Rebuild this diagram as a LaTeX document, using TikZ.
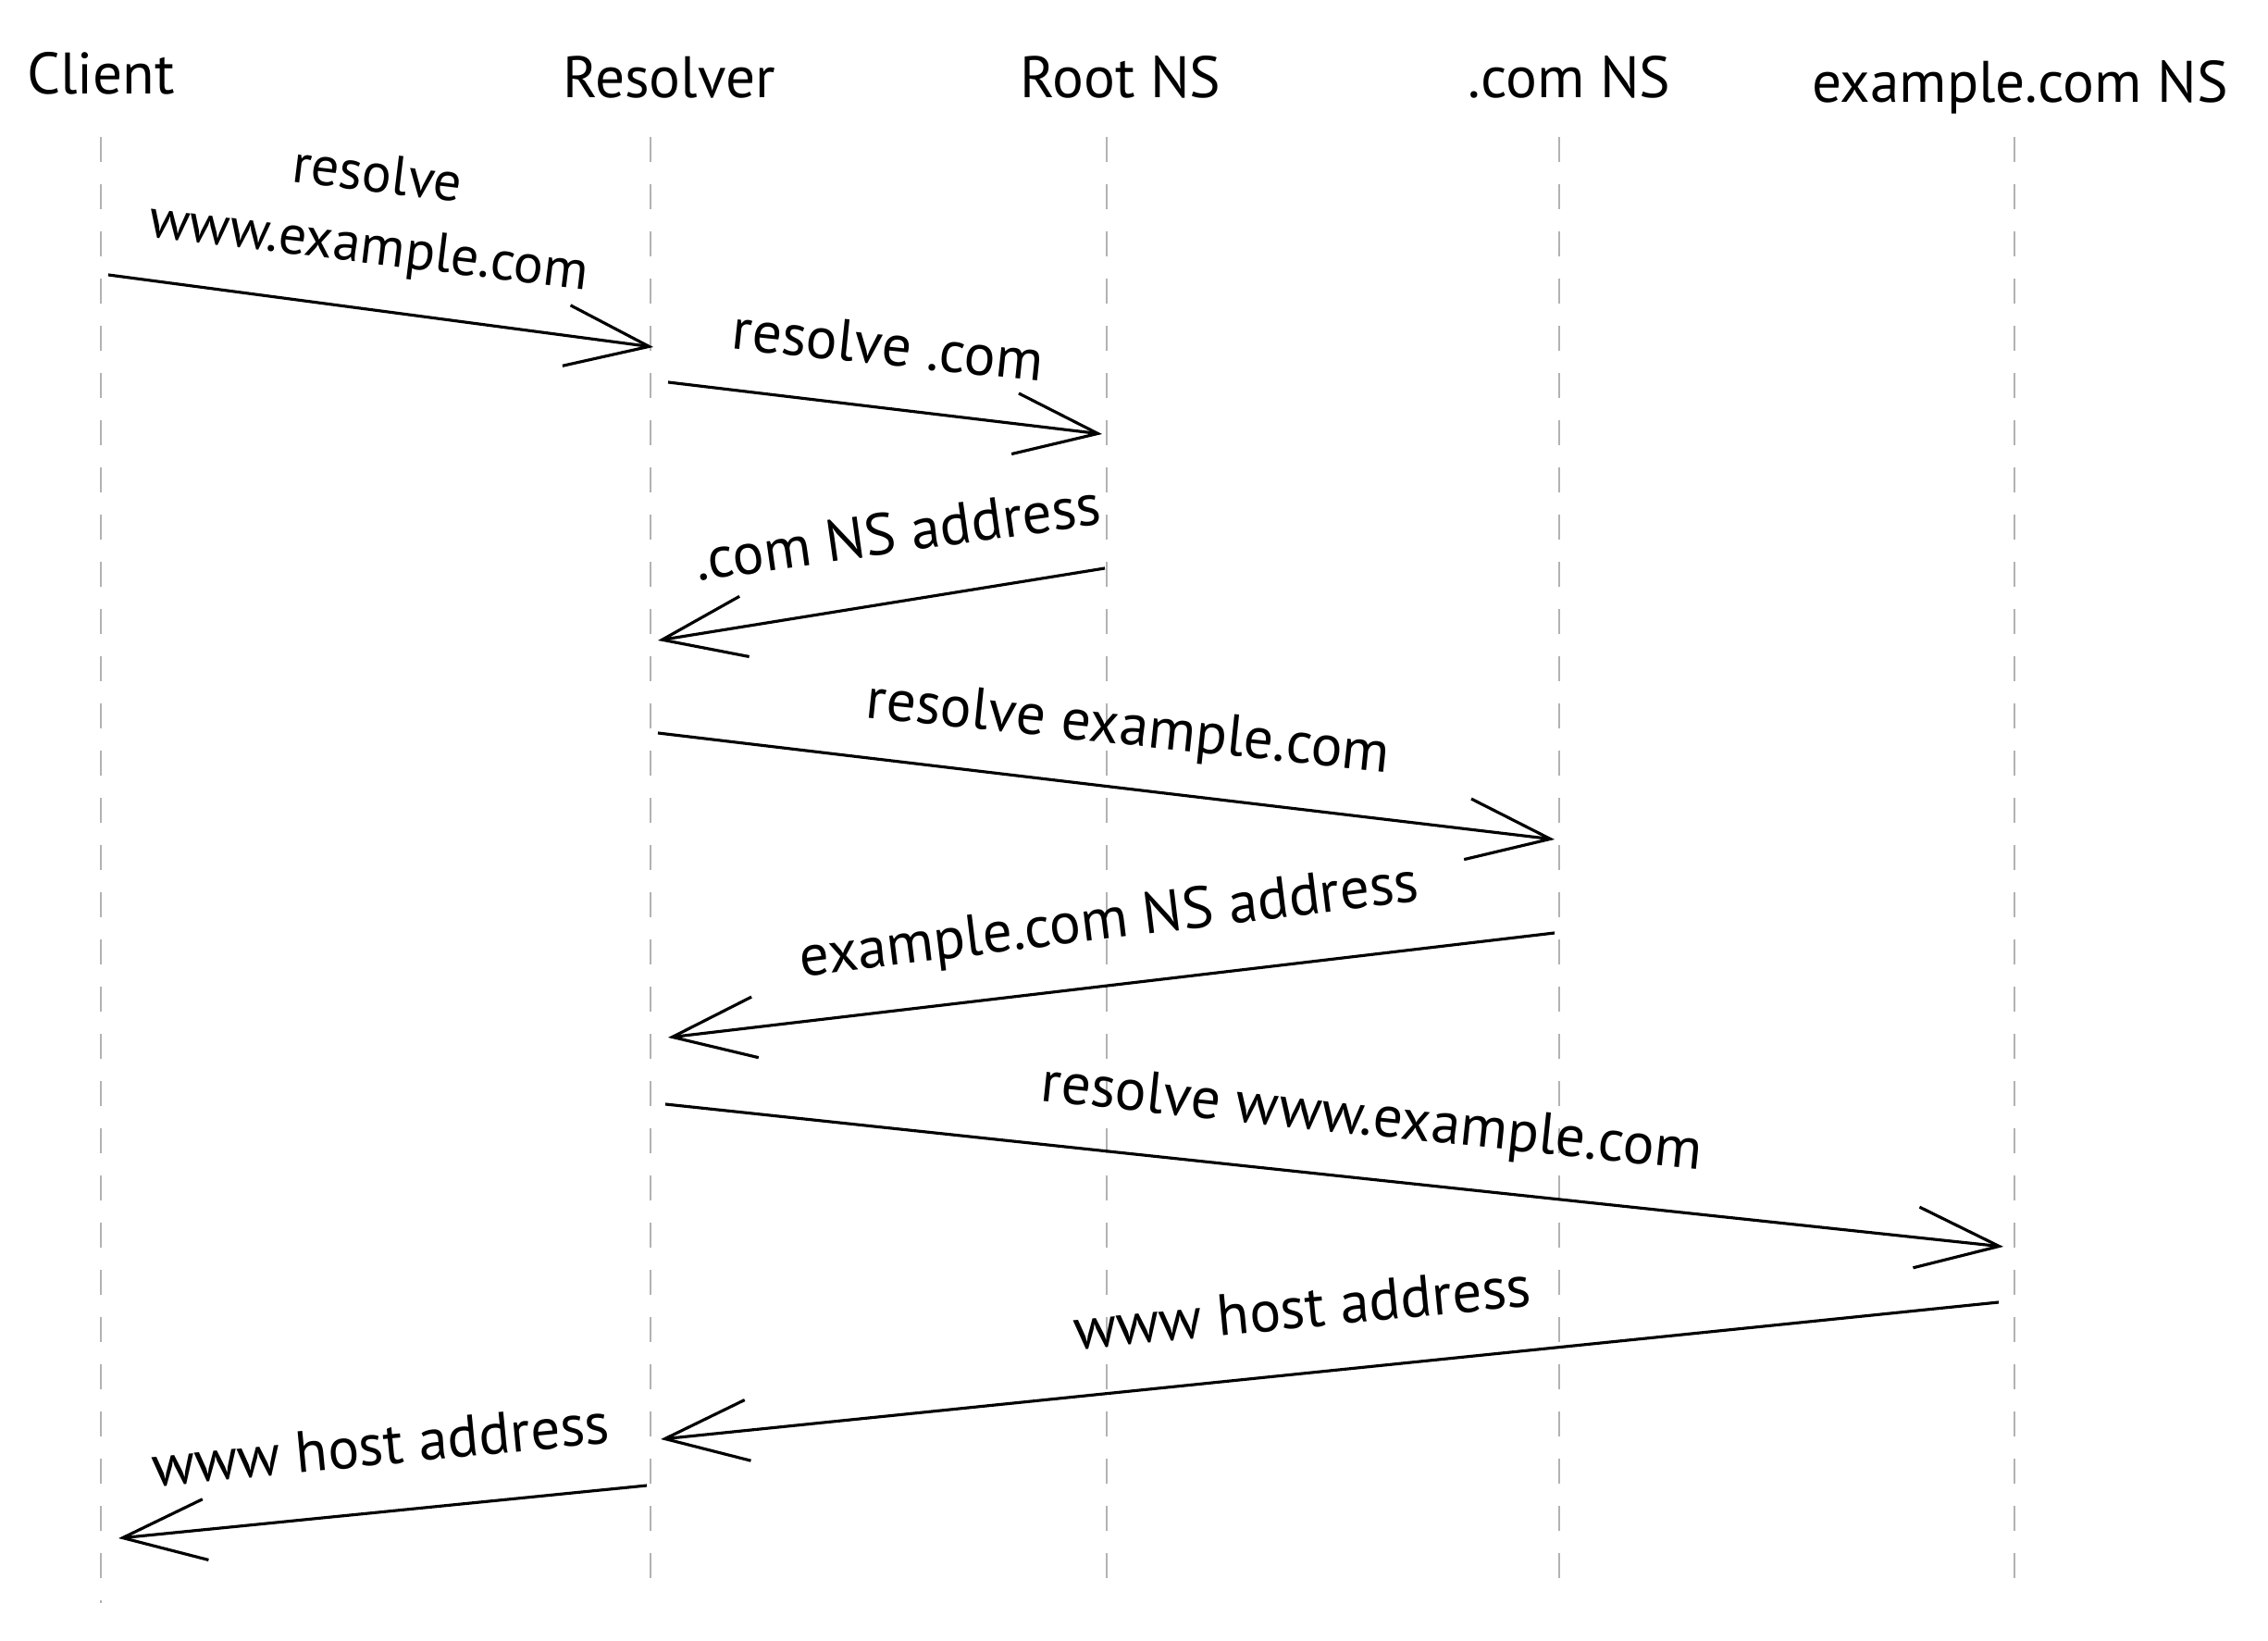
\documentclass[tikz,border=0pt]{standalone}
\usepackage{fontspec}
\setmainfont{PT Sans}
\usetikzlibrary{arrows.meta}

\tikzset{
  actor/.style={anchor=base, inner sep=0pt, font=\fontsize{18}{21}\selectfont},
  lifeline/.style={draw=gray!60, line width=0.6pt, dash pattern=on 0.27cm off 0.24cm},
  msg/.style={line width=0.9pt, -{Straight Barb[length=0.9cm,width=0.66cm]}},
  msglabel/.style={inner sep=0pt, align=center, font=\fontsize{18}{21}\selectfont}
}

\begin{document}
\begin{tikzpicture}
\useasboundingbox[fill=white] (0,0) rectangle (24.51,17.73);

\node[actor] (client) at (1.09, 16.71) {Client};
\node[actor] (resolver) at (7.23, 16.67) {Resolver};
\node[actor] (root) at (12.11, 16.67) {Root NS};
\node[actor] (com) at (16.96, 16.67) {.com NS};
\node[actor] (excom) at (21.83, 16.62) {example.com NS};

\foreach \name/\x/\yb in {client/1.09/0.41, resolver/7.03/0.54, root/11.96/0.54, com/16.85/0.54, excom/21.77/0.54} {
  \coordinate (\name top) at (\x, 16.25);
  \coordinate (\name bot) at (\x, \yb);
  \draw[lifeline] (\name top) -- (\name bot);
}

% message end points
\coordinate (q1a) at (1.17, 14.76);  \coordinate (q1b) at (7.06, 13.98);
\coordinate (q2a) at (7.22, 13.60);  \coordinate (q2b) at (11.91, 13.04);
\coordinate (q3a) at (11.94, 11.59); \coordinate (q3b) at (7.11, 10.81);
\coordinate (q4a) at (7.11, 9.81);   \coordinate (q4b) at (16.80, 8.66);
\coordinate (q5a) at (16.80, 7.65);  \coordinate (q5b) at (7.22, 6.52);
\coordinate (q6a) at (7.19, 5.80);   \coordinate (q6b) at (21.65, 4.26);
\coordinate (q7a) at (21.60, 3.66);  \coordinate (q7b) at (7.14, 2.18);
\coordinate (q8a) at (6.99, 1.68);   \coordinate (q8b) at (1.28, 1.11);

\draw[msg] (q1a) -- (q1b);
\draw[msg] (q2a) -- (q2b);
\draw[msg] (q3a) -- (q3b);
\draw[msg] (q4a) -- (q4b);
\draw[msg] (q5a) -- (q5b);
\draw[msg] (q6a) -- (q6b);
\draw[msg] (q7a) -- (q7b);
\draw[msg] (q8a) -- (q8b);

\node[msglabel, rotate=-7, font=\fontsize{17}{20}\selectfont] (l1) at (4.03, 15.42) {resolve\\[2pt]www.example.com};
\node[msglabel, rotate=-6] (l2) at (9.60, 14.00) {resolve .com};
\node[msglabel, rotate=8] (l3) at (9.70, 11.98) {.com NS address};
\node[msglabel, rotate=-6] (l4) at (12.19, 9.84) {resolve example.com};
\node[msglabel, rotate=7] (l5) at (11.99, 7.75) {example.com NS address};
\node[msglabel, rotate=-6] (l6) at (14.82, 5.62) {resolve www.example.com};
\node[msglabel, rotate=5.5] (l7) at (14.07, 3.60) {www host address};
\node[msglabel, rotate=5.5] (l8) at (4.11, 2.12) {www host address};

\end{tikzpicture}
\end{document}
